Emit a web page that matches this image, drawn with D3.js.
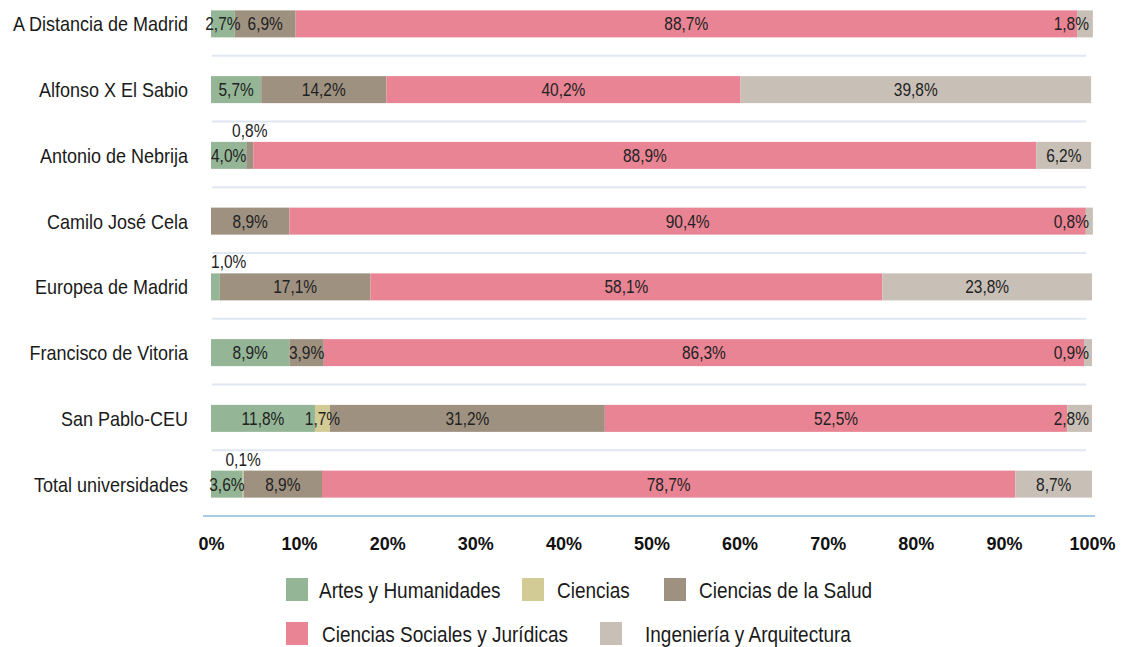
<!DOCTYPE html>
<html>
<head>
<meta charset="utf-8">
<script src="https://cdn.jsdelivr.net/npm/d3@7"></script>
<style>
  body { margin: 0; background: #fff; }
  svg { display: block; font-family: "Liberation Sans", Arial, sans-serif; }
</style>
</head>
<body>
<div id="uni_chart"></div>
<script>
// universities (rows, top to bottom)
const universities = [
    "A Distancia de Madrid",
    "Alfonso X El Sabio",
    "Antonio de Nebrija",
    "Camilo José Cela",
    "Europea de Madrid",
    "Francisco de Vitoria",
    "San Pablo-CEU",
    "Total universidades"
];

// knowledge branches (stack order)
const branches = [
    "Artes y Humanidades",
    "Ciencias",
    "Ciencias de la Salud",
    "Ciencias Sociales y Jurídicas",
    "Ingeniería y Arquitectura"
];
const branchColors = ["#94b696", "#d2cb96", "#9e9180", "#e98494", "#c8c0b7"];

// share of students (%) per branch, one value per university
const artes     = [2.7, 5.7, 4.0, 0,    1.0,  8.9, 11.8, 3.6];
const ciencias  = [0,   0,   0,   0,    0,    0,   1.7,  0.1];
const salud     = [6.9, 14.2, 0.8, 8.9, 17.1, 3.9, 31.2, 8.9];
const sociales  = [88.7, 40.2, 88.9, 90.4, 58.1, 86.3, 52.5, 78.7];
const ingenieria = [1.8, 39.8, 6.2, 0.8, 23.8, 0.9, 2.8, 8.7];

const xTicks = [0, 10, 20, 30, 40, 50, 60, 70, 80, 90, 100];

// text in the original is a bit taller than Liberation Sans
const TALL = 1.15;
const place = (x, y) => `translate(${x}, ${y}) scale(1, ${TALL})`;

function create_stacked_chart(width, height) {
    const seriesValues = [artes, ciencias, salud, sociales, ingenieria];

    // rows for d3.stack
    const rows = universities.map((u, i) => {
        const r = { name: u };
        branches.forEach((b, j) => { r[b] = seriesValues[j][i]; });
        return r;
    });
    const stacked = d3.stack().keys(branches)(rows);

    const svg = d3.select("#uni_chart")
        .append("svg")
        .attr("width", width)
        .attr("height", height);

    const xScale = d3.scaleLinear()
        .domain([0, 100])
        .range([211, 1092]);

    const yScale = d3.scaleBand()
        .domain(universities)
        .range([-9, 517])
        .padding(0);

    const barH = 27;
    const yMid = d => yScale(d) + yScale.bandwidth() / 2;
    const barY = d => yMid(d) - barH / 2;

    // light separators between rows
    svg.append("g")
        .selectAll("line")
        .data(universities.slice(1))
        .enter().append("line")
        .attr("x1", 212)
        .attr("x2", 1086)
        .attr("y1", d => yScale(d) - 1)
        .attr("y2", d => yScale(d) - 1)
        .attr("stroke", "#dfe8f2")
        .attr("stroke-width", 2);

    // bar segments
    const layers = svg.append("g")
        .selectAll("g")
        .data(stacked)
        .enter().append("g")
        .attr("fill", (d, i) => branchColors[i]);

    layers.selectAll("rect")
        .data(d => d)
        .enter().append("rect")
        .attr("x", d => xScale(d[0]))
        .attr("y", d => barY(d.data.name))
        .attr("width", d => Math.max(0, xScale(d[1]) - xScale(d[0])))
        .attr("height", barH);

    // value labels
    const fmt = v => v.toFixed(1).replace(".", ",") + "%";
    const labelG = svg.append("g")
        .style("font-size", "15.5px")
        .attr("fill", "#222");

    stacked.forEach((layer, j) => {
        layer.forEach(d => {
            const v = d[1] - d[0];
            if (v <= 0.001) return;
            const val = seriesValues[j][universities.indexOf(d.data.name)];
            const isLast = j === branches.length - 1;
            const above = val <= 1.0 && !isLast;
            const t = labelG.append("text")
                .attr("text-anchor", "middle")
                .text(fmt(val));
            const w = t.node().getComputedTextLength();
            let cx = (xScale(d[0]) + xScale(d[1])) / 2;
            // keep labels inside the plot
            cx = Math.min(cx, xScale(100) - 3 - w / 2);
            if (above) cx = Math.max(cx, xScale(0) + w / 2);
            t.attr("transform", place(cx, above ? barY(d.data.name) - 5 : yMid(d.data.name)))
                .attr("dy", above ? 0 : "0.36em");
        });
    });

    // university labels
    svg.append("g")
        .selectAll("text")
        .data(universities)
        .enter().append("text")
        .attr("transform", d => place(188, yMid(d)))
        .attr("dy", "0.36em")
        .attr("text-anchor", "end")
        .style("font-size", "18px")
        .attr("fill", "#1a1a1a")
        .text(d => d);

    // x axis
    svg.append("line")
        .attr("x1", 203)
        .attr("x2", 1095)
        .attr("y1", 516)
        .attr("y2", 516)
        .attr("stroke", "#a9cbe6")
        .attr("stroke-width", 2);

    const xAxis = svg.append("g")
        .attr("transform", "translate(0, 516)")
        .call(d3.axisBottom(xScale)
            .tickValues(xTicks)
            .tickSize(0)
            .tickPadding(34)
            .tickFormat(d => d + "%"));
    xAxis.select(".domain").remove();
    xAxis.selectAll(".tick text")
        .style("font-size", "18px")
        .style("font-weight", "bold")
        .style("font-family", "\"Liberation Sans\", Arial, sans-serif")
        .attr("fill", "#111")
        .attr("dy", 0);

    // legend (two rows)
    const legendLayout = [
        { sx: 286, tx: 319, y: 590 },
        { sx: 522, tx: 557, y: 590 },
        { sx: 664, tx: 699, y: 590 },
        { sx: 286, tx: 322, y: 634 },
        { sx: 600, tx: 645, y: 634 }
    ];
    const legend = svg.append("g")
        .selectAll("g")
        .data(branches)
        .enter().append("g");

    legend.append("rect")
        .attr("x", (d, i) => legendLayout[i].sx)
        .attr("y", (d, i) => legendLayout[i].y - 12)
        .attr("width", 22)
        .attr("height", 23)
        .attr("fill", (d, i) => branchColors[i]);

    legend.append("text")
        .attr("transform", (d, i) => place(legendLayout[i].tx, legendLayout[i].y))
        .attr("dy", "0.36em")
        .style("font-size", "19px")
        .attr("fill", "#1a1a1a")
        .text(d => d);
}

create_stacked_chart(1123, 647);
</script>
</body>
</html>
